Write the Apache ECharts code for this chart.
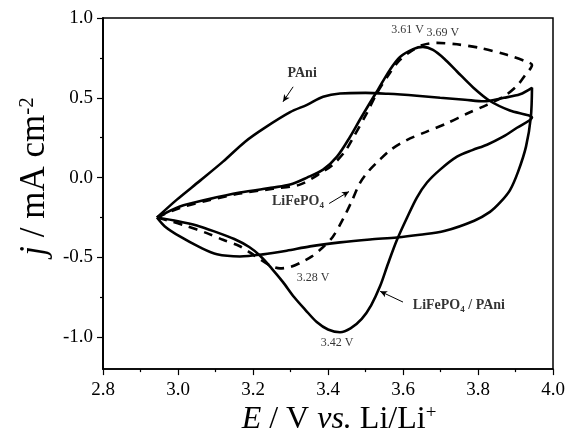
<!DOCTYPE html>
<html><head><meta charset="utf-8">
<script src="https://cdn.jsdelivr.net/npm/echarts@6/dist/echarts.min.js"></script>
<style>html,body{margin:0;padding:0;background:#fff}#c{width:569px;height:441px}</style>
</head><body><div id="c"></div>
<script>
// ---- data (E in V vs Li/Li+, j in mA cm^-2) ----
const paniAnodic = [[2.944,-0.25],[2.997,-0.138],[3.059,-0.019],[3.12,0.10],[3.179,0.225],[3.232,0.313],[3.299,0.41],[3.344,0.456],[3.387,0.506],[3.432,0.527],[3.5,0.531],[3.56,0.525],[3.637,0.5125],[3.699,0.5],[3.765,0.488],[3.816,0.478],[3.869,0.5],[3.912,0.522],[3.944,0.5625]];
const paniCathodic = [[3.944,0.5625],[3.941,0.381],[3.928,0.194],[3.907,0.0375],[3.885,-0.08],[3.859,-0.156],[3.832,-0.215],[3.79,-0.27],[3.71,-0.335],[3.645,-0.358],[3.584,-0.375],[3.512,-0.3875],[3.432,-0.406],[3.352,-0.431],[3.29,-0.458],[3.227,-0.481],[3.165,-0.494],[3.104,-0.481],[3.059,-0.4375],[3.005,-0.369],[2.965,-0.306],[2.944,-0.25]];
const lfpAnodic = [[2.944,-0.25],[3.005,-0.19],[3.077,-0.145],[3.165,-0.1],[3.253,-0.07],[3.325,-0.044],[3.387,0.038],[3.413,0.081],[3.445,0.163],[3.467,0.25],[3.504,0.406],[3.531,0.531],[3.565,0.656],[3.592,0.738],[3.627,0.8],[3.653,0.831],[3.691,0.844],[3.744,0.835],[3.805,0.8125],[3.877,0.769],[3.931,0.725],[3.944,0.706]];
const lfpCathodic = [[3.944,0.706],[3.925,0.64],[3.904,0.575],[3.87,0.51],[3.824,0.456],[3.77,0.40],[3.717,0.34],[3.66,0.285],[3.61,0.235],[3.568,0.175],[3.535,0.105],[3.508,0.04],[3.485,-0.035],[3.463,-0.15],[3.44,-0.26],[3.413,-0.37],[3.385,-0.44],[3.357,-0.494],[3.33,-0.53],[3.30,-0.56],[3.272,-0.569],[3.245,-0.55],[3.205,-0.49],[3.165,-0.43],[3.12,-0.39],[3.077,-0.348],[3.024,-0.305],[2.987,-0.278],[2.944,-0.25]];
const compAnodic = [[2.944,-0.25],[3.005,-0.181],[3.077,-0.138],[3.165,-0.094],[3.253,-0.0625],[3.299,-0.044],[3.344,0.0],[3.387,0.05],[3.424,0.131],[3.459,0.256],[3.485,0.3625],[3.512,0.469],[3.533,0.55],[3.565,0.675],[3.592,0.756],[3.627,0.805],[3.653,0.819],[3.68,0.80],[3.71,0.745],[3.744,0.665],[3.787,0.565],[3.832,0.48],[3.885,0.42],[3.944,0.375]];
const compCathodic = [[3.944,0.375],[3.904,0.3125],[3.867,0.256],[3.824,0.206],[3.785,0.172],[3.744,0.131],[3.699,0.05],[3.664,-0.031],[3.637,-0.125],[3.611,-0.25],[3.584,-0.39],[3.56,-0.54],[3.539,-0.68],[3.515,-0.80],[3.49,-0.885],[3.46,-0.945],[3.432,-0.969],[3.40,-0.952],[3.37,-0.905],[3.34,-0.83],[3.31,-0.75],[3.28,-0.655],[3.25,-0.57],[3.219,-0.49],[3.19,-0.435],[3.15,-0.385],[3.10,-0.34],[3.05,-0.30],[3.0,-0.273],[2.944,-0.25]];

const yMajorTicks = [-1.0,-0.5,0.0,0.5,1.0];
const yMinorTicks = [-0.75,-0.25,0.25,0.75];

const annotationText = ['{b|PAni}','{b|LiFePO}{sub|4}','{b|LiFePO}{sub|4}{b| / PAni}','{n|3.61 V}','{n|3.69 V}','{n|3.28 V}','{n|3.42 V}'];
const annotationE = [3.331,3.32,3.749,3.612,3.706,3.36,3.424];
const annotationJ = [0.65,-0.15,-0.80,0.925,0.906,-0.631,-1.0375];
const arrowFrom = [[3.307,0.569],[3.403,-0.1625],[3.6,-0.78]];
const arrowTo = [[3.28,0.475],[3.456,-0.0875],[3.539,-0.7125]];

// ---- chart ----
const FONT = '"Liberation Serif", "Times New Roman", serif';
const chart = echarts.init(document.getElementById('c'));
const lineBase = {type:'line', showSymbol:false, symbol:'none', smooth:0.3, animation:false, silent:true};
const solid = {color:'#000', width:2.6, type:'solid'};
const dashed = {color:'#000', width:2.6, type:[9,7]};

const axisCommon = {
  axisLine:{show:true, onZero:false, lineStyle:{color:'#000', width:1.5}},
  splitLine:{show:false},
};

chart.setOption({
  animation:false,
  backgroundColor:'#fff',
  grid:{left:103, right:16, top:18, bottom:71, show:true, borderColor:'#000', borderWidth:1.5},
  xAxis:{
    type:'value', min:2.8, max:4.0, interval:0.2, ...axisCommon,
    axisTick:{show:true, length:6, lineStyle:{color:'#000', width:1.2}},
    minorTick:{show:true, splitNumber:2, length:3, lineStyle:{color:'#000', width:1.2}},
    axisLabel:{color:'#000', fontFamily:FONT, fontSize:19, margin:11, formatter:v=>v.toFixed(1)},
    name:'{it|E} / V {it|vs.} Li/Li{sup|+}', nameLocation:'middle', nameGap:30,
    nameTextStyle:{color:'#000', fontFamily:FONT, fontSize:32, padding:[0,0,0,22],
      rich:{it:{fontFamily:FONT, fontSize:32, fontStyle:'italic', color:'#000'},
            sup:{fontFamily:FONT, fontSize:19, verticalAlign:'top', color:'#000'}}}
  },
  yAxis:[{
    type:'value', min:-1.2, max:1.0, ...axisCommon,
    axisTick:{show:true, length:6, customValues:yMajorTicks, lineStyle:{color:'#000', width:1.2}},
    axisLabel:{color:'#000', fontFamily:FONT, fontSize:19, margin:10, customValues:yMajorTicks, formatter:v=>v.toFixed(1)},
    name:'{it|j} / mA cm{sup|-2}', nameLocation:'middle', nameGap:50, nameRotate:90,
    nameTextStyle:{color:'#000', fontFamily:FONT, fontSize:35, padding:[0,0,0,34],
      rich:{it:{fontFamily:FONT, fontSize:35, fontStyle:'italic', color:'#000'},
            sup:{fontFamily:FONT, fontSize:21, verticalAlign:'top', color:'#000'}}}
  },{
    type:'value', min:-1.2, max:1.0, position:'left', ...axisCommon,
    axisTick:{show:true, length:3, customValues:yMinorTicks, lineStyle:{color:'#000', width:1.2}},
    axisLabel:{show:false}
  }],
  series:[
    {...lineBase, name:'PAni', data:paniAnodic.concat(paniCathodic.slice(1)), lineStyle:solid},
    {...lineBase, name:'LiFePO4', data:lfpAnodic.concat(lfpCathodic.slice(1)), lineStyle:dashed},
    {...lineBase, name:'LiFePO4/PAni', data:compAnodic.concat(compCathodic.slice(1)), lineStyle:solid},
    {
      type:'scatter', symbolSize:0, silent:true, animation:false,
      data:annotationText.map((t,i)=>[annotationE[i], annotationJ[i], t]),
      label:{show:true, position:'inside', color:'#000', formatter:p=>p.data[2],
        rich:{
          b:{fontFamily:FONT, fontWeight:'bold', fontSize:14, color:'#000'},
          sub:{fontFamily:FONT, fontWeight:'bold', fontSize:9, color:'#000', verticalAlign:'bottom', padding:[8,0,0,0]},
          n:{fontFamily:FONT, fontSize:12, color:'#000'}
        }},
      markLine:{
        silent:true, animation:false, symbol:['none','arrow'], symbolSize:[5,7],
        label:{show:false}, lineStyle:{color:'#000', width:1, type:'solid'},
        data:arrowFrom.map((f,i)=>[{coord:f},{coord:arrowTo[i]}])
      }
    }
  ]
});
</script></body></html>
